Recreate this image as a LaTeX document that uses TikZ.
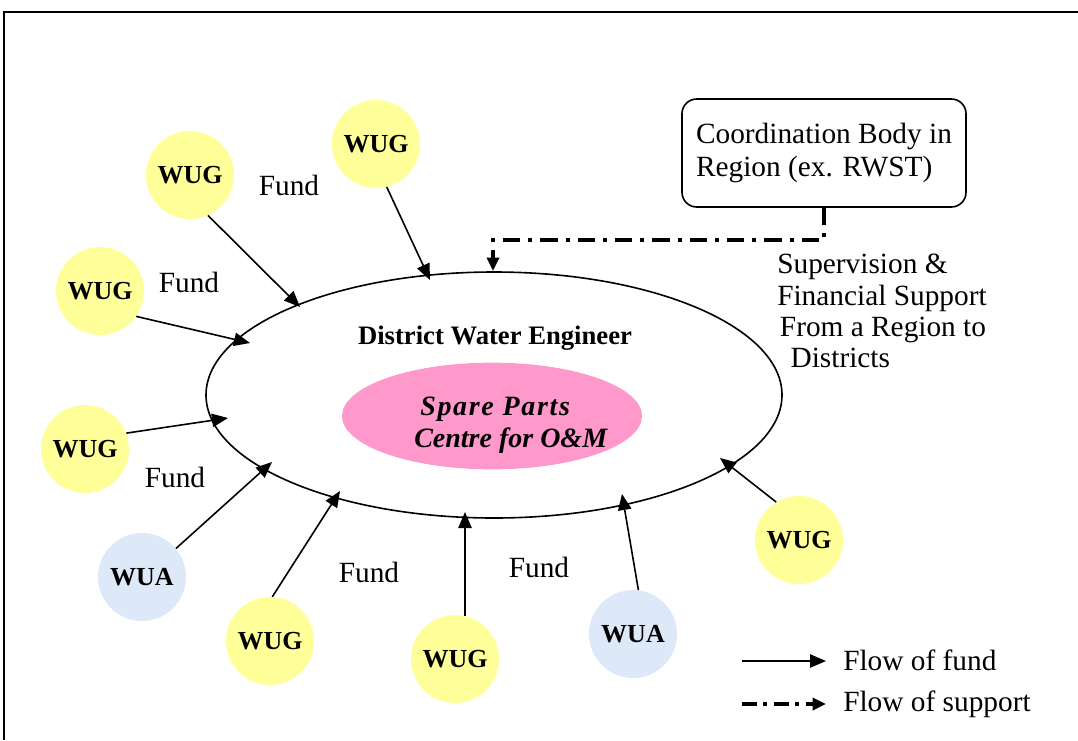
\documentclass[tikz,border=0pt]{standalone}
\usepackage{fontspec}
\setmainfont{Liberation Serif}
\usetikzlibrary{arrows.meta,shapes.geometric}

\tikzset{
  wug/.style={circle, fill=yellowfill, minimum size=66pt, inner sep=0pt,
              font=\fontsize{19.5}{22}\selectfont\bfseries},
  wua/.style={wug, fill=bluefill},
  fund/.style={line width=1.2pt, -{Triangle[length=12pt,width=10pt]}},
  support/.style={line width=2.6pt, dash pattern=on 13pt off 6pt on 3pt off 6pt,
                  -{Triangle[length=10pt,width=9pt]}},
  lbl/.style={font=\fontsize{22}{24}\selectfont, inner sep=0pt}
}
\definecolor{yellowfill}{HTML}{FFFF99}
\definecolor{bluefill}{HTML}{DDE8F8}
\definecolor{pinkfill}{HTML}{FF99CC}

\begin{document}
\begin{tikzpicture}[x=0.75pt,y=-0.75pt]
\useasboundingbox (0,0) rectangle (1078,740);

% page frame
\draw[line width=1.3pt] (1078,12) -- (4,12) -- (4,740);

% district ellipse with the spare parts centre inside
\node[ellipse, draw, line width=1.2pt, minimum width=432pt, minimum height=184.5pt,
      inner sep=0pt] (dwe) at (494,395) {};
\node[ellipse, fill=pinkfill, minimum width=225pt, minimum height=80pt,
      inner sep=0pt] (spc) at (492,416) {};
\node[font=\fontsize{20}{22}\selectfont\bfseries] (dwet) at (495,338) {District Water Engineer};
\node[align=left, anchor=west, inner sep=0pt,
      font=\fontsize{21}{24}\selectfont\bfseries\itshape] (spct) at (414,425)
  {\hspace{4.5pt}{\addfontfeature{LetterSpace=6}Spare Parts}\\Centre for O\&M};

% user groups and associations
\node[wug] (w1) at (190,175) {WUG};
\node[wug] (w2) at (376,144) {WUG};
\node[wug] (w3) at (100,291) {WUG};
\node[wug] (w4) at (85,449) {WUG};
\node[wua] (a1) at (142,577) {WUA};
\node[wug] (w6) at (270,641) {WUG};
\node[wug] (w7) at (455,659) {WUG};
\node[wua] (a2) at (633,634) {WUA};
\node[wug] (w9) at (799,540) {WUG};

% arrival points on the district ellipse
\coordinate (e1) at (300,307);
\coordinate (e2) at (430,280);
\coordinate (e3) at (250,343);
\coordinate (e4) at (228,418);
\coordinate (e5) at (272,462);
\coordinate (e6) at (340,491);
\coordinate (e7) at (465,512);
\coordinate (e8) at (622,494);
\coordinate (e9) at (720,458);

% flows of fund
\draw[fund] (w1.-66) -- (e1);
\draw[fund] (w2.-76) -- (e2);
\draw[fund] (w3.-35) -- (e3);
\draw[fund] (w4.21) -- (e4);
\draw[fund] (a1.40) -- (e5);
\draw[fund] (w6.87) -- (e6);
\draw[fund] (w7.77) -- (e7);
\draw[fund] (a2.83) -- (e8);
\draw[fund] (w9.121) -- (e9);

\node[lbl] (f1) at (289,185) {Fund};
\node[lbl] (f2) at (189,282) {Fund};
\node[lbl] (f3) at (175,477) {Fund};
\node[lbl] (f4) at (369,572) {Fund};
\node[lbl] (f5) at (539,567) {Fund};

% regional coordination body
\node[draw, line width=1.2pt, rounded corners=11pt, minimum width=213pt, minimum height=81pt,
      align=left, font=\fontsize{22}{24.75}\selectfont] (cb) at (824,153)
  {Coordination Body in\\Region (ex. RWST)};
\coordinate (c1) at (824,240);
\coordinate (c2) at (493,240);
\coordinate (c3) at (493,271);
\draw[support] (cb.south) -- (c1) -- (c2) -- (c3);

\node[align=left, anchor=north west, inner sep=0pt,
      font=\fontsize{22}{23.5}\selectfont] (sv) at (777,254)
  {Supervision \&\\Financial Support\\\hspace{2pt}From a Region to\\\hspace{10pt}Districts};

% legend
\coordinate (l1a) at (742,661);
\coordinate (l1b) at (826,661);
\coordinate (l2a) at (742,704);
\coordinate (l2b) at (826,704);
\draw[fund] (l1a) -- (l1b);
\draw[support, dash pattern=on 11pt off 5pt on 3pt off 5pt] (l2a) -- (l2b);
\node[lbl, anchor=west] (lt1) at (843,660) {Flow of fund};
\node[lbl, anchor=west] (lt2) at (843,704) {Flow of support};
\end{tikzpicture}
\end{document}
